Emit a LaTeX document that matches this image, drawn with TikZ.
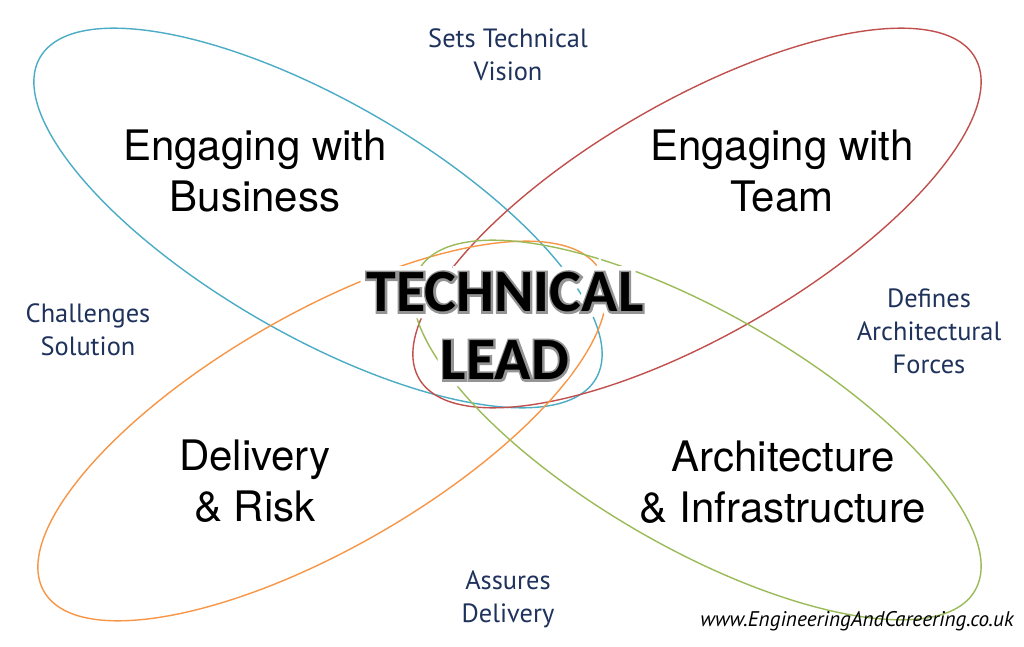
\documentclass[tikz,border=0pt]{standalone}
\usepackage{fontspec}
\newfontfamily\heros{TeX Gyre Heros}
\newfontfamily\ptsans{PT Sans}
\newfontfamily\carlito{Carlito}
\newfontfamily\carlitoRim{Carlito}[UprightFont=* Bold, FakeBold=7]
\newfontfamily\carlitoHalo{Carlito}[UprightFont=* Bold, FakeBold=22]
\definecolor{blueE}{RGB}{75,172,198}
\definecolor{redE}{RGB}{192,80,77}
\definecolor{orangeE}{RGB}{247,150,70}
\definecolor{greenE}{RGB}{155,187,89}
\definecolor{navy}{RGB}{30,50,92}
\begin{document}
\begin{tikzpicture}[x=0.5pt,y=-0.5pt,
  ell/.style={line width=0.7pt},
  big/.style={font=\heros\fontsize{21}{25.5}\selectfont, align=center, inner sep=0pt, text=black},
  role/.style={font=\ptsans\fontsize{13.2}{16.5}\selectfont, align=center, inner sep=0pt, text=navy},
  tl/.style={font=\carlito\bfseries\fontsize{30}{34}\selectfont, align=center, inner sep=0pt},
  tlrim/.style={font=\carlitoRim\fontsize{30}{34}\selectfont, align=center, inner sep=0pt},
  tlhalo/.style={font=\carlitoHalo\fontsize{30}{34}\selectfont, align=center, inner sep=0pt},
  weblink/.style={font=\ptsans\itshape\fontsize{10.6}{12}\selectfont, inner sep=0pt, text=black}]
\useasboundingbox (0,0) rectangle (1024,647);
\fill[white] (0,0) rectangle (1024,647);

% ellipses
\draw[ell, blueE, rotate around={-30:(318,218)}] (318,218) ellipse [x radius=160.5pt, y radius=58.5pt];
\draw[ell, redE, rotate around={30:(697,218)}] (697,218) ellipse [x radius=160.5pt, y radius=58.5pt];
\draw[ell, orangeE, rotate around={30:(322,431)}] (322,431) ellipse [x radius=160.5pt, y radius=58.5pt];
\draw[ell, greenE, rotate around={-30:(697,430)}] (697,430) ellipse [x radius=160.5pt, y radius=58.5pt];

% area labels
\node[big] (bus) at (255,171) {Engaging with\\Business};
\node[big] (team) at (782,171) {Engaging with\\Team};
\node[big] (del) at (255,481) {Delivery\\\& Risk};
\node[big] (arch) at (783,482) {Architecture\\\& Infrastructure};

% role labels
\node[role] (vision) at (508,55) {Sets Technical\\Vision};
\node[role] (chal) at (88,330) {Challenges\\Solution};
\node[role] (forces) at (929,331) {Defines\\Architectural\\Forces};
\node[role] (assure) at (508,599) {Assures\\Delivery};

% central title with halo and rim
\node[tlhalo, text=white] (tlhalo) at (505,326) {TECHNICAL\\LEAD};
\node[tlrim, text=black!42] (tlrim) at (505,326) {TECHNICAL\\LEAD};
\node[tl, text=black] (tl) at (505,326) {TECHNICAL\\LEAD};

\node[weblink] (web) at (857,621) {www.EngineeringAndCareering.co.uk};
\end{tikzpicture}
\end{document}
